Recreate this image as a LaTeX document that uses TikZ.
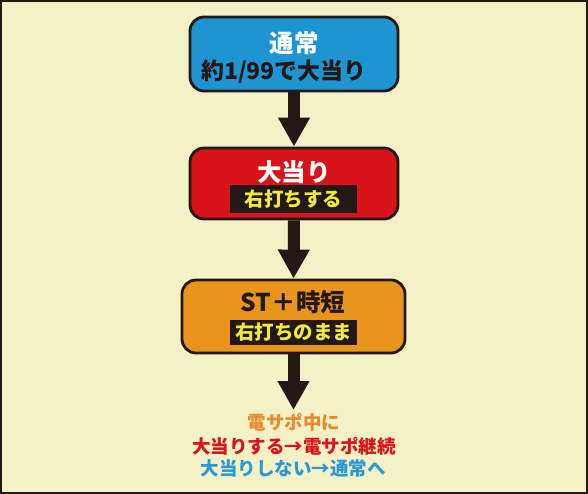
\documentclass[tikz,border=0pt]{standalone}
\usepackage{fontspec}
\setmainfont{Noto Sans CJK JP}
\usetikzlibrary{arrows.meta}
\definecolor{bg}{HTML}{F5F1C7}
\definecolor{ink}{HTML}{231815}
\definecolor{cblue}{HTML}{1E94D3}
\definecolor{cred}{HTML}{D7141A}
\definecolor{corange}{HTML}{E9951C}
\definecolor{cyel}{HTML}{F2E93A}
\definecolor{torange}{HTML}{E8892B}
\definecolor{tred}{HTML}{D8141C}
\definecolor{tblue}{HTML}{2C9AD2}
\begin{document}
\begin{tikzpicture}[x=1pt,y=1pt,
  stagebox/.style={draw=ink,line width=2.8pt,rounded corners=14pt,inner sep=0pt},
  band/.style={fill=ink,inner sep=0pt,text=cyel,font=\bfseries\fontsize{19.5}{19.5}\selectfont},
  title/.style={inner sep=0pt,font=\bfseries\fontsize{24.5}{24.5}\selectfont},
  flow/.style={draw=ink,line width=12pt,-{Triangle[width=30pt,length=29pt]}},
  note/.style={inner sep=0pt,font=\bfseries\fontsize{18.5}{18.5}\selectfont}]
\useasboundingbox (0,0) rectangle (588,-494);
\fill[bg] (0,0) rectangle (588,-494);
\draw[ink,line width=1.5pt] (1,-1) rectangle (587,-493);
% boxes
\node[stagebox,fill=cblue,minimum width=208pt,minimum height=74pt] (normal) at (294,-54) {};
\node[stagebox,fill=cred,minimum width=208pt,minimum height=71pt] (hit) at (294,-183.5) {};
\node[stagebox,fill=corange,minimum width=223pt,minimum height=73pt] (st) at (293.5,-316.5) {};
% texts
\node[title,text=white] (t1) at (294,-43) {通常};
\node[title,text=ink,font=\bfseries\fontsize{23}{23}\selectfont] (t1b) at (284,-72) {約1/99で大当り};
\node[title,text=white] (t2) at (294,-172) {大当り};
\node[band,minimum width=127pt,minimum height=28pt] (b2) at (293.5,-199) {右打ちする};
\node[title,text=ink] (t3) at (293,-302) {ST＋時短};
\node[band,minimum width=127pt,minimum height=25pt] (b3) at (293.5,-332.5) {右打ちのまま};
% arrows
\coordinate (end) at (293.5,-410);
\draw[flow] (normal.south) -- (hit.north);
\draw[flow] (hit.south) -- (st.north);
\draw[flow] (st.south) -- (end);
% notes
\node[note,text=torange] (n1) at (294,-422) {電サポ中に};
\node[note,text=tred] (n2) at (294,-446) {大当りする→電サポ継続};
\node[note,text=tblue] (n3) at (293,-468) {大当りしない→通常へ};
\end{tikzpicture}
\end{document}
